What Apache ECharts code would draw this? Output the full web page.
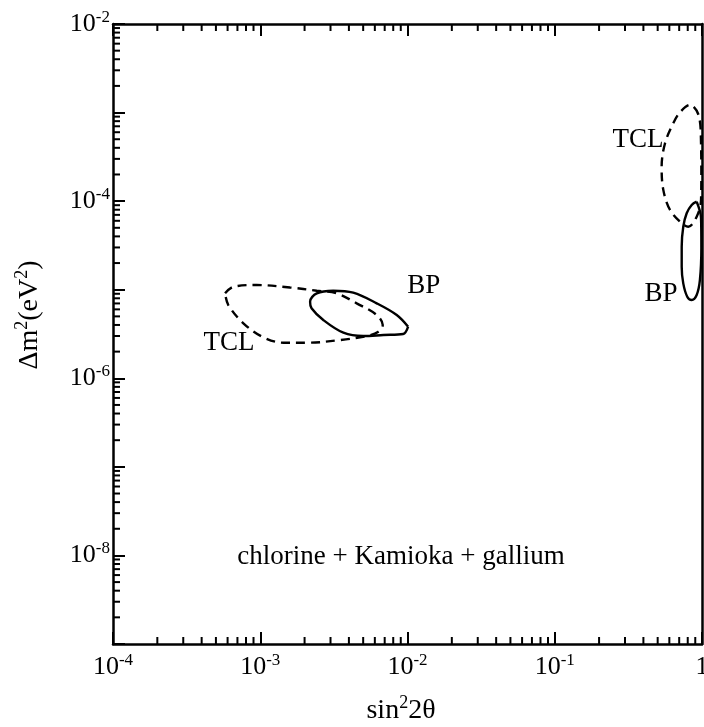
<!DOCTYPE html>
<html>
<head>
<meta charset="utf-8">
<script src="https://cdn.jsdelivr.net/npm/echarts@6/dist/echarts.min.js"></script>
<style>
  html, body { margin: 0; padding: 0; background: #fff; }
  #chart { width: 704px; height: 727px; }
</style>
</head>
<body>
<div id="chart"></div>
<script>
// ---- data ----
// small-mixing-angle region, TCL (dashed)
const tclSmallX = [5.77e-4, 6.56e-4, 9.46e-4, 1.59e-3, 2.42e-3, 3.30e-3, 4.52e-3, 6.18e-3, 6.79e-3, 6.34e-3, 5.28e-3, 3.48e-3, 2.07e-3, 1.44e-3, 1.05e-3, 7.68e-4, 6.07e-4, 5.77e-4];
const tclSmallY = [9.1e-6, 1.08e-5, 1.13e-5, 1.06e-5, 9.75e-6, 9.1e-6, 7.02e-6, 5.18e-6, 4.0e-6, 3.36e-6, 3.0e-6, 2.70e-6, 2.52e-6, 2.52e-6, 2.90e-6, 4.18e-6, 6.71e-6, 9.1e-6];
// small-mixing-angle region, BP (solid)
const bpSmallX = [1.01e-2, 9.35e-3, 6.86e-3, 5.01e-3, 3.67e-3, 2.68e-3, 2.23e-3, 2.18e-3, 2.42e-3, 3.13e-3, 4.28e-3, 6.18e-3, 8.45e-3, 1.01e-2];
const bpSmallY = [3.82e-6, 3.16e-6, 3.08e-6, 3.0e-6, 3.27e-6, 4.55e-6, 6.17e-6, 7.33e-6, 9.1e-6, 9.75e-6, 9.25e-6, 7.02e-6, 5.18e-6, 3.82e-6];
// large-mixing-angle region, TCL (dashed)
const tclLargeX = [0.99, 0.985, 0.955, 0.828, 0.710, 0.638, 0.561, 0.532, 0.546, 0.607, 0.728, 0.807, 0.920, 0.985, 0.99];
const tclLargeY = [2.0e-4, 4.5e-4, 9.0e-4, 1.22e-3, 1.01e-3, 7.57e-4, 4.50e-4, 2.45e-4, 1.34e-4, 7.94e-5, 5.62e-5, 5.14e-5, 6.67e-5, 1.03e-4, 2.0e-4];
// large-mixing-angle region, BP (solid)
const bpLargeX = [0.920, 0.851, 0.787, 0.746, 0.728, 0.728, 0.746, 0.794, 0.851, 0.920, 0.968, 0.99, 0.985, 0.920];
const bpLargeY = [9.86e-5, 9.04e-5, 7.29e-5, 5.14e-5, 3.06e-5, 1.82e-5, 1.18e-5, 8.34e-6, 7.66e-6, 8.71e-6, 1.29e-5, 3.0e-5, 6.5e-5, 9.86e-5];
// text annotations
const noteText = ['TCL', 'BP', 'TCL', 'BP', 'chlorine + Kamioka + gallium'];
const noteX = [6.14e-4, 1.29e-2, 0.367, 0.527, 9.04e-3];
const noteY = [2.5e-6, 1.10e-5, 4.90e-4, 8.95e-6, 9.6e-9];
// axes
const xRange = [1e-4, 1];
const yRange = [1e-9, 1e-2];
const yLabelExps = [-2, -4, -6, -8];
const minorMultipliers = [2, 3, 4, 5, 6, 7, 8, 9];

const zip = (xs, ys) => xs.map((x, i) => [x, ys[i]]);
const FONT = '"Liberation Serif", "DejaVu Serif", serif';
const INK = '#000';

function expLabel(v) {
  const e = Math.round(Math.log10(v));
  if (e === 0) return '{b|1}';
  return '{b|10}{s|' + e + '}';
}
const tickRich = {
  b: { fontFamily: FONT, fontSize: 26, lineHeight: 30, color: INK },
  s: { fontFamily: FONT, fontSize: 17, lineHeight: 16, color: INK, verticalAlign: 'top' }
};
const titleRich = {
  b: { fontFamily: FONT, fontSize: 28, lineHeight: 34, color: INK },
  s: { fontFamily: FONT, fontSize: 18, lineHeight: 18, color: INK, verticalAlign: 'top' }
};

function decadeValues(lo, hi) {
  const out = [];
  for (let e = Math.round(Math.log10(lo)); e < Math.round(Math.log10(hi)); e++) {
    minorMultipliers.forEach(m => out.push(m * Math.pow(10, e)));
  }
  return out;
}
const xMinor = decadeValues(xRange[0], xRange[1]);
const yMinor = decadeValues(yRange[0], yRange[1]);

const axisLine = { show: true, onZero: false, lineStyle: { color: INK, width: 2.5 } };
const majorTick = { show: true, inside: true, length: 12, lineStyle: { color: INK, width: 2 } };

const lineSeries = (name, pts, dashed) => ({
  name, type: 'line', data: pts, showSymbol: false, smooth: 0.35,
  lineStyle: { color: INK, width: 2.4, type: dashed ? [9, 6] : 'solid' },
  clip: true, silent: true, z: 3
});

const chart = echarts.init(document.getElementById('chart'), null, { renderer: 'canvas' });
chart.setOption({
  animation: false,
  backgroundColor: '#fff',
  grid: { left: 113, top: 24, right: 2, bottom: 83, containLabel: false, outerBoundsMode: 'none' },
  xAxis: [
    {
      type: 'log', min: xRange[0], max: xRange[1], splitNumber: 4, logBase: 10,
      axisLine, axisTick: majorTick, splitLine: { show: false }, minorTick: { show: false },
      axisLabel: { formatter: expLabel, rich: tickRich, margin: 8, showMinLabel: true, showMaxLabel: true, hideOverlap: false },
      name: '{b|sin}{s|2}{b|2θ}', nameLocation: 'middle', nameGap: 50,
      nameTextStyle: { rich: titleRich, padding: [0, 13, 0, 0] }
    },
    {
      type: 'log', min: xRange[0], max: xRange[1], splitNumber: 4, position: 'top',
      axisLine, axisTick: majorTick, splitLine: { show: false }, axisLabel: { show: false }
    }
  ],
  yAxis: [
    {
      type: 'log', min: yRange[0], max: yRange[1], splitNumber: 7, logBase: 10,
      axisLine, axisTick: majorTick, splitLine: { show: false }, minorTick: { show: false },
      axisLabel: {
        formatter: v => (yLabelExps.indexOf(Math.round(Math.log10(v))) >= 0 ? expLabel(v) : ''),
        rich: tickRich, margin: 3, showMinLabel: true, showMaxLabel: true
      },
      name: '{b|Δm}{s|2}{b|(eV}{s|2}{b|)}', nameLocation: 'middle', nameGap: 66, nameRotate: 90,
      nameTextStyle: { rich: titleRich, padding: [0, 0, 0, 38] }
    },
    {
      type: 'log', min: yRange[0], max: yRange[1], splitNumber: 7, position: 'right',
      axisLine, axisTick: { show: false }, splitLine: { show: false }, axisLabel: { show: false }
    }
  ],
  series: [
    lineSeries('TCL small', zip(tclSmallX, tclSmallY), true),
    lineSeries('BP small', zip(bpSmallX, bpSmallY), false),
    lineSeries('TCL large', zip(tclLargeX, tclLargeY), true),
    lineSeries('BP large', zip(bpLargeX, bpLargeY), false),
    {
      name: 'notes', type: 'scatter', symbolSize: 0, silent: true, z: 5,
      itemStyle: { opacity: 1 },
      data: noteText.map((t, i) => ({ value: [noteX[i], noteY[i]], name: t })),
      label: {
        show: true, position: 'inside', formatter: p => p.name,
        fontFamily: FONT, fontSize: 27, color: INK, opacity: 1
      }
    },
    {
      name: 'minor ticks', type: 'custom', silent: true, clip: false, z: 4,
      data: [[xRange[0], yRange[0]]],
      renderItem: function (params, api) {
        const children = [];
        const style = { stroke: INK, lineWidth: 2 };
        const L = 7;
        xMinor.forEach(v => {
          const b = api.coord([v, yRange[0]]);
          const t = api.coord([v, yRange[1]]);
          children.push({ type: 'line', shape: { x1: b[0], y1: b[1], x2: b[0], y2: b[1] - L }, style });
          children.push({ type: 'line', shape: { x1: t[0], y1: t[1], x2: t[0], y2: t[1] + L }, style });
        });
        yMinor.forEach(v => {
          const l = api.coord([xRange[0], v]);
          children.push({ type: 'line', shape: { x1: l[0], y1: l[1], x2: l[0] + L, y2: l[1] }, style });
        });
        return { type: 'group', children };
      }
    }
  ]
});
</script>
</body>
</html>
